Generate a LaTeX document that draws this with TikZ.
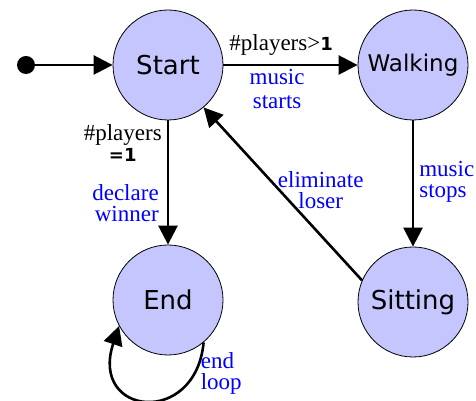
\documentclass[tikz,border=0pt]{standalone}
\usepackage{fontspec}
\setmainfont{Liberation Serif}
\newfontfamily\sansdv{DejaVu Sans}
\usetikzlibrary{arrows.meta}
\definecolor{stfill}{RGB}{198,198,255}
\newcommand{\numtxt}[1]{{\sansdv\bfseries\fontsize{18}{19}\selectfont #1}}

\begin{document}
\begin{tikzpicture}[x=1pt, y=1pt,
    st/.style={circle, draw, line width=0.8pt, fill=stfill, minimum size=110pt,
      inner sep=0pt, font=\sansdv\fontsize{26}{28}\selectfont},
    tr/.style={-{Triangle[length=19pt,width=19pt]}, line width=2.6pt},
    lb/.style={inner sep=1pt, align=center, font=\fontsize{23}{21}\selectfont}]
      \useasboundingbox (0,0) rectangle (476,401);

      \node[st] (start) at (168,336) {Start};
      \node[st, right of=start, node distance=245pt] (walking) {\fontsize{23}{25}\selectfont Walking};
      \node[st, below of=walking, node distance=237pt] (sitting) {Sitting};
      \node[st, below of=start, node distance=235pt] (end) {End};
      \node[circle, fill, minimum size=18pt, inner sep=0pt, left of=start, node distance=142pt] (init) {};

      \draw[tr] (init)--(start);
      \draw[tr] (start)--
        node[lb, pos=.43, above=7pt] (c1) {\#players>\numtxt{1}}
        node[lb, pos=.4, below=2pt, text=blue] (a1) {music\\[3pt]starts} (walking);
      \draw[tr] (start)--
        node[lb, pos=.18, left=4pt] (c2) {\#players\\\numtxt{=1}}
        node[lb, pos=.67, left=7pt, text=blue, align=right] (a2) {declare\\winner} (end);
      \draw[tr] (walking)--
        node[lb, pos=.49, right=4pt, text=blue, align=left] (a3) {music\\stops} (sitting);
      \draw[tr] (sitting.157)--
        node[lb, pos=.52, anchor=west, xshift=-4pt, text=blue] (a4) {eliminate\\loser} (start.-50);
      \draw[tr] (end.-50) .. controls +(-8,-85) and +(-30,-90) ..
        node[lb, pos=.1, anchor=west, xshift=0pt, yshift=-8pt, text=blue, align=left] (a5) {end\\loop} (end.208);
    \end{tikzpicture}
\end{document}
